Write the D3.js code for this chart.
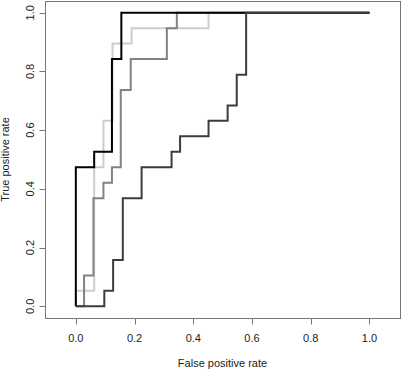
<!DOCTYPE html>
<html>
<head>
<meta charset="utf-8">
<script src="https://cdn.jsdelivr.net/npm/d3@7"></script>
<style>
  body { margin: 0; background: #fff; }
  text { font-family: "Liberation Sans", Arial, sans-serif; font-size: 11px; fill: #222; }
</style>
</head>
<body>
<div class="main"></div>
<script>
// ROC points (false positive rate, true positive rate) for each model
var fprA = [0, 0, 0.0625, 0.123, 0.155, 1];
var tprA = [0, 0.474, 0.526, 0.842, 1, 1];

var fprB = [0, 0.028, 0.06, 0.094, 0.123, 0.153, 0.187, 0.31, 0.344, 1];
var tprB = [0, 0.105, 0.368, 0.421, 0.474, 0.737, 0.842, 0.947, 1, 1];

var fprC = [0, 0, 0.0625, 0.094, 0.125, 0.19, 0.452, 1];
var tprC = [0, 0.053, 0.474, 0.632, 0.895, 0.947, 1, 1];

var fprD = [0, 0.097, 0.127, 0.16, 0.224, 0.326, 0.355, 0.452, 0.517, 0.548, 0.58, 1];
var tprD = [0, 0.053, 0.158, 0.368, 0.474, 0.526, 0.579, 0.632, 0.684, 0.789, 1, 1];

var xTicks = [0, 0.2, 0.4, 0.6, 0.8, 1.0];
var yTicks = [0, 0.2, 0.4, 0.6, 0.8, 1.0];

var width = 406, height = 372;

var svg = d3.select('.main')
    .append('svg')
    .attr('width', width)
    .attr('height', height);

var x = d3.scaleLinear().domain([-0.105, 1.104]).range([45, 400]);
var y = d3.scaleLinear().domain([-0.04, 1.04]).range([318, 1]);

function pts(fx, ty) {
    return fx.map(function (d, i) { return [d, ty[i]]; });
}

var curves = [
    { pts: pts(fprC, tprC), color: '#cdcdcd', w: 2 },
    { pts: pts(fprB, tprB), color: '#828282', w: 2 },
    { pts: pts(fprA, tprA), color: '#000000', w: 2 },
    { pts: pts(fprD, tprD), color: '#3c3c3c', w: 2 }
];

var line = d3.line()
    .x(function (d) { return x(d[0]); })
    .y(function (d) { return y(d[1]); })
    .curve(d3.curveStepAfter);

svg.selectAll('.roc')
    .data(curves)
    .enter()
    .append('path')
    .attr('class', 'roc')
    .attr('d', function (d) { return line(d.pts); })
    .style('fill', 'none')
    .style('stroke', function (d) { return d.color; })
    .style('stroke-width', function (d) { return d.w; });

// box
svg.append('rect')
    .attr('x', x.range()[0] + 0.5)
    .attr('y', y.range()[1] + 0.5)
    .attr('width', x.range()[1] - x.range()[0])
    .attr('height', y.range()[0] - y.range()[1])
    .style('fill', 'none')
    .style('stroke', '#777')
    .style('stroke-width', 1);

// x axis
var gx = svg.append('g')
    .attr('transform', 'translate(0,' + (y.range()[0] + 0.5) + ')');

gx.selectAll('line')
    .data(xTicks)
    .enter()
    .append('line')
    .attr('x1', function (d) { return Math.round(x(d)) + 0.5; })
    .attr('x2', function (d) { return Math.round(x(d)) + 0.5; })
    .attr('y1', 0)
    .attr('y2', 6)
    .style('stroke', '#777');

gx.selectAll('text')
    .data(xTicks)
    .enter()
    .append('text')
    .attr('x', function (d) { return x(d); })
    .attr('y', 23.5)
    .attr('text-anchor', 'middle')
    .text(function (d) { return d3.format('.1f')(d); });

// y axis
var gy = svg.append('g')
    .attr('transform', 'translate(' + (x.range()[0] + 0.5) + ',0)');

gy.selectAll('line')
    .data(yTicks)
    .enter()
    .append('line')
    .attr('y1', function (d) { return Math.round(y(d)) + 0.5; })
    .attr('y2', function (d) { return Math.round(y(d)) + 0.5; })
    .attr('x1', 0)
    .attr('x2', -6)
    .style('stroke', '#777');

gy.selectAll('text')
    .data(yTicks)
    .enter()
    .append('text')
    .attr('transform', function (d) {
        return 'translate(' + [-12, y(d)] + ') rotate(-90)';
    })
    .attr('text-anchor', 'middle')
    .text(function (d) { return d3.format('.1f')(d); });

svg.append('text')
    .attr('x', (x.range()[0] + x.range()[1]) / 2)
    .attr('y', 367)
    .attr('text-anchor', 'middle')
    .text('False positive rate');

svg.append('text')
    .attr('transform', 'translate(' + [9, (y.range()[0] + y.range()[1]) / 2] + ') rotate(-90)')
    .attr('text-anchor', 'middle')
    .text('True positive rate');
</script>
</body>
</html>
